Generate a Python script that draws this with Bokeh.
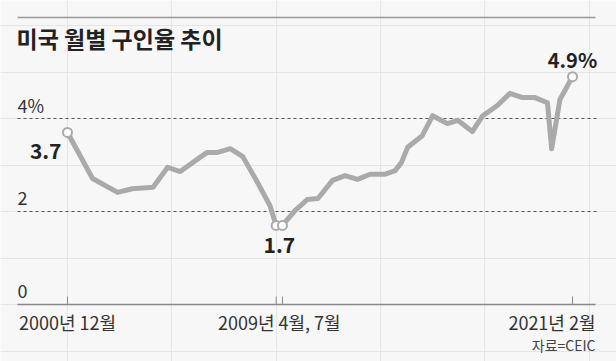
from bokeh.plotting import figure
from bokeh.models import Range1d
from bokeh.core.properties import value
from bokeh.embed import file_html
from bokeh.resources import INLINE

# ---- data (months counted from December 2000) ----
months = [0, 12, 24, 31, 41, 48, 54, 64, 67, 72, 78, 84, 90, 97, 100, 103, 109, 115, 120, 127,
          133, 139, 145, 152, 157, 160, 163, 170, 175, 182, 187, 194, 199, 206, 212, 218, 224,
          230, 232, 236, 242]
rates = [3.7, 2.71, 2.41, 2.49, 2.52, 2.95, 2.86, 3.18, 3.27, 3.27, 3.35, 3.18, 2.71, 2.13, 1.7,
         1.7, 2.02, 2.26, 2.28, 2.67, 2.77, 2.69, 2.80, 2.80, 2.88, 3.05, 3.38, 3.63, 4.06, 3.89,
         3.96, 3.72, 4.06, 4.28, 4.54, 4.45, 4.45, 4.34, 3.35, 4.41, 4.9]
marked_months = [0, 100, 103, 242]
marked_rates = [3.7, 1.7, 1.7, 4.9]
grid_values = [2, 4]
y_tick_values = [0, 2, 4]
y_tick_labels = ["0", "2", "4%"]
x_tick_months = [0, 100, 103, 242]
x_label_months = [0, 101.5]
x_labels = ["2000년 12월", "2009년 4월, 7월"]
last_label = "2021년 2월"
callout_texts = ["3.7", "1.7", "4.9%"]
title_text = "미국 월별 구인율 추이"
source_text = "자료=CEIC"

# ---- layout (pixel geometry) ----
W, H = 616, 361
X0_PX, X1_PX = 67, 572          # pixel of month 0 and month 242
PPM = (X1_PX - X0_PX) / 242.0   # pixels per month
ZERO_PY = 304                   # pixel row of value 0
PPV = 46.5                      # pixels per percentage point
x_start = -X0_PX / PPM
x_end = x_start + W / PPM
y_end = ZERO_PY / PPV
y_start = y_end - H / PPV


def mx(px):
    return x_start + px / PPM


def vy(py):
    return y_end - py / PPV


NARROW = "'Liberation Sans Narrow', 'Noto Sans CJK KR', sans-serif"
BG = "#f7f7f7"
LINE_C = "#aaaaaa"

p = figure(width=W, height=H, x_range=Range1d(x_start, x_end), y_range=Range1d(y_start, y_end),
           min_border=0, toolbar_location=None, output_backend="svg",
           x_axis_location=None, y_axis_location=None,
           background_fill_color=BG, border_fill_color=BG, outline_line_color=None)

# title and top rule
p.segment(x0=[mx(17)], y0=[vy(17)], x1=[mx(595)], y1=[vy(17)], line_color="#999999", line_width=1.5)
p.text(x=[mx(16)], y=[vy(37)], text=[title_text], text_font=value("Noto Sans CJK KR"),
       text_font_style="bold", text_font_size="23px", text_color="#222222",
       text_baseline="middle", text_align="left")

# dashed grid lines
p.segment(x0=[mx(17)] * len(grid_values), y0=grid_values, x1=[mx(597)] * len(grid_values),
          y1=grid_values, line_color="#555555", line_width=1, line_dash="3 3")

# y labels (above each line)
p.text(x=[mx(17)] * len(y_tick_values), y=[v + 13.5 / PPV for v in y_tick_values],
       text=y_tick_labels, text_font=value(NARROW), text_font_size="18px",
       text_color="#333333", text_baseline="middle", text_align="left")

# x axis line and ticks
p.segment(x0=[mx(17)], y0=[0], x1=[mx(595)], y1=[0], line_color="#888888", line_width=1.5)
p.segment(x0=x_tick_months, y0=[0] * len(x_tick_months), x1=x_tick_months,
          y1=[8 / PPV] * len(x_tick_months), line_color="#888888", line_width=1)

# x labels
p.text(x=x_label_months, y=[vy(321)] * len(x_label_months), text=x_labels,
       text_font=value(NARROW), text_font_size="18px", text_color="#333333",
       text_baseline="middle", text_align="center")
p.text(x=[mx(595)], y=[vy(321)], text=[last_label], text_font=value(NARROW),
       text_font_size="18px", text_color="#333333", text_baseline="middle", text_align="right")
p.text(x=[mx(595)], y=[vy(344)], text=[source_text], text_font=value(NARROW),
       text_font_size="14px", text_color="#444444", text_baseline="middle", text_align="right")

# series
p.line(months, rates, line_color=LINE_C, line_width=5, line_join="round", line_cap="round")
p.scatter(marked_months, marked_rates, size=9, fill_color="white", line_color=LINE_C, line_width=2)

# callouts
p.text(x=[marked_months[0] - 6 / PPM], y=[marked_rates[0] - 19 / PPV], text=[callout_texts[0]],
       text_font=value(NARROW), text_font_style="bold", text_font_size="21px",
       text_color="#222222", text_baseline="middle", text_align="right")
p.text(x=[(marked_months[1] + marked_months[2]) / 2], y=[marked_rates[1] - 20 / PPV],
       text=[callout_texts[1]], text_font=value(NARROW), text_font_style="bold",
       text_font_size="21px", text_color="#222222", text_baseline="middle", text_align="center")
p.text(x=[marked_months[3]], y=[marked_rates[3] + 17 / PPV], text=[callout_texts[2]],
       text_font=value(NARROW), text_font_style="bold", text_font_size="20px",
       text_color="#222222", text_baseline="middle", text_align="center")

open("out.html", "w").write(file_html(p, INLINE))
